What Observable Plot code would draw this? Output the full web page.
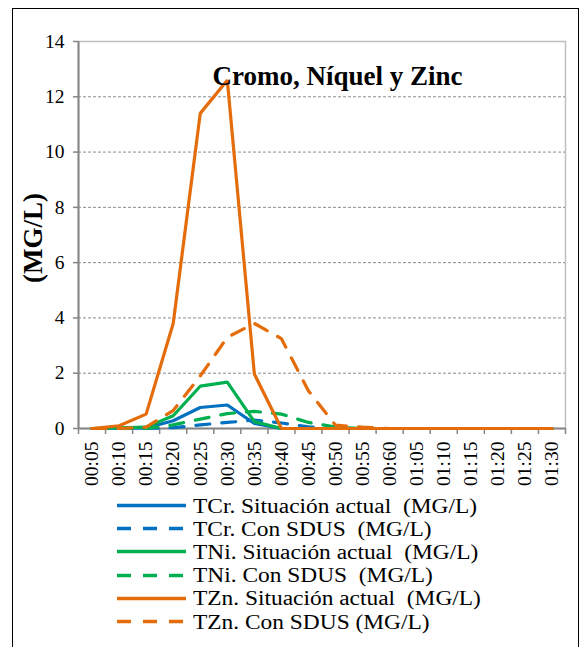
<!DOCTYPE html>
<html>
<head>
<meta charset="utf-8">
<script src="https://cdn.jsdelivr.net/npm/d3@7"></script>
<script src="https://cdn.jsdelivr.net/npm/@observablehq/plot@0.6"></script>
<style>
  html, body { margin: 0; padding: 0; background: #fff; overflow: hidden; }
  #wrap { position: relative; width: 580px; height: 647px; overflow: hidden; font-family: "Liberation Serif", "DejaVu Serif", serif; }
  #border { position: absolute; left: 12px; top: 8px; width: 567px; height: 660px; box-sizing: border-box; border: 1.5px solid #000; }
  #chart { position: absolute; left: 0; top: 0; }
  #legend { position: absolute; left: 116px; top: 494px; }
  .row { display: flex; align-items: center; height: 23.2px; }
  .row span { display: inline-block; white-space: pre; font-size: 20px; line-height: 20px; margin-left: 6px; color: #000; transform: scaleX(1.17); transform-origin: left center; font-family: "Liberation Serif", "DejaVu Serif", serif; }
  #chart text { font-family: "Liberation Serif", "DejaVu Serif", serif; }
</style>
</head>
<body>
<div id="wrap">
  <div id="border"></div>
  <div id="chart"></div>
  <div id="legend"></div>
</div>
<script>
const categories = ["00:05","00:10","00:15","00:20","00:25","00:30","00:35","00:40","00:45","00:50","00:55","00:60","01:05","01:10","01:15","01:20","01:25","01:30"];
const tcrActual = [0, 0, 0.02, 0.28, 0.76, 0.85, 0.18, 0, 0, 0, 0, 0, 0, 0, 0, 0, 0, 0];
const tcrSdus   = [0, 0, 0, 0.03, 0.13, 0.22, 0.3, 0.2, 0.06, 0, 0, 0, 0, 0, 0, 0, 0, 0];
const tniActual = [0, 0.02, 0.05, 0.46, 1.53, 1.68, 0.25, 0, 0, 0, 0, 0, 0, 0, 0, 0, 0, 0];
const tniSdus   = [0, 0, 0, 0.13, 0.34, 0.54, 0.62, 0.52, 0.22, 0.05, 0, 0, 0, 0, 0, 0, 0, 0];
const tznActual = [0, 0.1, 0.52, 3.8, 11.4, 12.6, 1.97, 0, 0, 0, 0, 0, 0, 0, 0, 0, 0, 0];
const tznSdus   = [0, 0, 0.05, 0.65, 1.9, 3.3, 3.8, 3.25, 1.36, 0.12, 0.05, 0, 0, 0, 0, 0, 0, 0];
const seriesNames = [
  "TCr. Situación actual  (MG/L)",
  "TCr. Con SDUS  (MG/L)",
  "TNi. Situación actual  (MG/L)",
  "TNi. Con SDUS  (MG/L)",
  "TZn. Situación actual  (MG/L)",
  "TZn. Con SDUS (MG/L)"
];
const yTicks = [0, 2, 4, 6, 8, 10, 12, 14];
const title = "Cromo, Níquel y Zinc";
const yTitle = "(MG/L)";

const blue = "#0070C0", green = "#00B050", orange = "#E46C0A";
const dash = "14,12";
const seriesValues = [tcrActual, tcrSdus, tniActual, tniSdus, tznActual, tznSdus];
const seriesColors = [blue, blue, green, green, orange, orange];
const seriesDash = [null, dash, null, dash, null, dash];

const n = categories.length;
const FONT = '"Liberation Serif", "DejaVu Serif", serif';

const lineMarks = seriesValues.map((vals, s) =>
  Plot.line(vals.map((v, i) => ({cat: i + 0.5, v})), {
    x: "cat", y: "v",
    stroke: seriesColors[s], strokeWidth: 3.2,
    strokeDasharray: seriesDash[s] ?? undefined,
    strokeLinejoin: "miter"
  })
);

const chart = Plot.plot({
  width: 580,
  height: 500,
  marginLeft: 78,
  marginRight: 15,
  marginTop: 41,
  marginBottom: 72,
  style: {fontFamily: FONT, fontSize: "19px", background: "transparent", color: "#000"},
  x: {type: "linear", domain: [0, n]},
  y: {domain: [0, 14]},
  marks: [
    Plot.frame({stroke: "#bfbfbf", strokeWidth: 1.5}),
    Plot.ruleY(yTicks.filter(t => t > 0 && t < 14), {stroke: "#8c8c8c", strokeWidth: 1, strokeDasharray: "3,2"}),
    Plot.axisY({ticks: yTicks, tickSize: 5, tickPadding: 9, label: null, fontSize: 19.5, stroke: "#868686", strokeWidth: 1.5, tickFormat: d => String(d)}),
    Plot.axisX({ticks: d3.range(n + 1), tickSize: 6, tickFormat: () => "", label: null, stroke: "#868686", strokeWidth: 1.5}),
    Plot.axisX({ticks: d3.range(n).map(i => i + 0.5), tickSize: 0, tickPadding: 13, tickRotate: -90, tickFormat: d => categories[Math.round(d - 0.5)], label: null, fontSize: 19.5}),
    Plot.ruleX([0], {stroke: "#868686", strokeWidth: 2}),
    Plot.ruleY([0], {stroke: "#868686", strokeWidth: 2}),
    ...lineMarks,
    Plot.text([title], {frameAnchor: "top", dx: 15.5, dy: 24, fontSize: 27, fontWeight: "bold", fill: "#000"}),
    Plot.text([yTitle], {frameAnchor: "left", textAnchor: "middle", dx: -45, dy: 3, rotate: -90, fontSize: 27, fontWeight: "bold", fill: "#000"})
  ]
});
document.getElementById("chart").appendChild(chart);

const legend = document.getElementById("legend");
seriesNames.forEach((name, s) => {
  const row = document.createElement("div");
  row.className = "row";
  const sv = d3.create("svg").attr("width", 71).attr("height", 23);
  sv.append("line").attr("x1", 1).attr("x2", 70).attr("y1", 11.5).attr("y2", 11.5)
    .attr("stroke", seriesColors[s]).attr("stroke-width", 3.3)
    .attr("stroke-dasharray", seriesDash[s] ?? null);
  row.appendChild(sv.node());
  const sp = document.createElement("span");
  sp.textContent = name;
  row.appendChild(sp);
  legend.appendChild(row);
});
</script>
</body>
</html>
